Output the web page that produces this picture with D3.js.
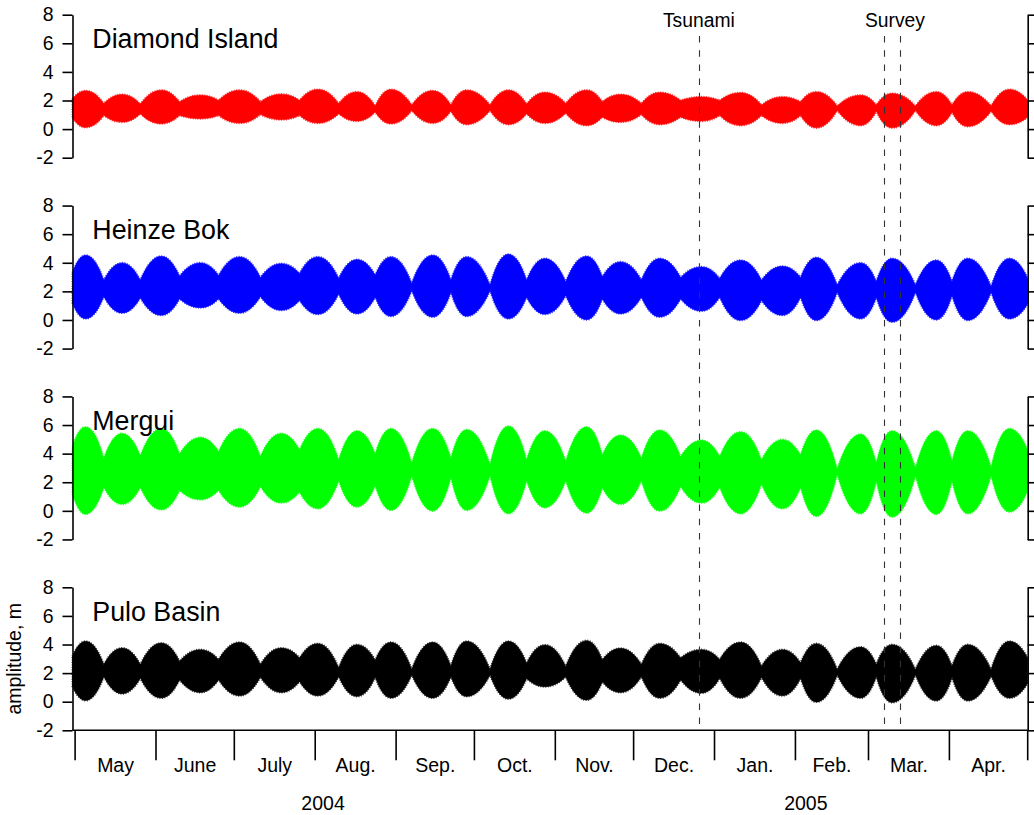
<!DOCTYPE html>
<html>
<head>
<meta charset="utf-8">
<script src="https://cdn.jsdelivr.net/npm/d3@7"></script>
<style>
  html, body { margin: 0; padding: 0; background: #fff; }
  svg { display: block; }
  text { font-family: "Liberation Sans", Arial, Helvetica, sans-serif; fill: #000; }
</style>
</head>
<body>
<svg id="chart" width="1034" height="815"></svg>
<script>
// ---------------- DATA ----------------
const stations = ["Diamond Island", "Heinze Bok", "Mergui", "Pulo Basin"];

// envelope dates: data start, then alternating spring / neap tides, data end
const envelopeDates = [
  "2004-04-30",
  "2004-05-05", "2004-05-12", "2004-05-19", "2004-05-26",
  "2004-06-03", "2004-06-10", "2004-06-18", "2004-06-25",
  "2004-07-03", "2004-07-11", "2004-07-19", "2004-07-26",
  "2004-08-02", "2004-08-10", "2004-08-17", "2004-08-24",
  "2004-08-30", "2004-09-07", "2004-09-15", "2004-09-22",
  "2004-09-28", "2004-10-07", "2004-10-14", "2004-10-21",
  "2004-10-28", "2004-11-05", "2004-11-13", "2004-11-19",
  "2004-11-26", "2004-12-04", "2004-12-11", "2004-12-19",
  "2004-12-27", "2005-01-03", "2005-01-11", "2005-01-19",
  "2005-01-27", "2005-02-03", "2005-02-09", "2005-02-17",
  "2005-02-26", "2005-03-04", "2005-03-10", "2005-03-19",
  "2005-03-27", "2005-04-02", "2005-04-08", "2005-04-17",
  "2005-04-24",
  "2005-05-01"
];

// upper / lower envelope of water level (m), one value per envelope date
const diamondHigh = [2.10, 2.68,1.78,2.42,1.74, 2.72,1.90,2.37,2.00, 2.72,1.90,2.44,2.00, 2.77,1.78,2.60,1.60,
  2.77,1.67,2.68,1.67, 2.72,1.67,2.72,1.74, 2.56,1.78,2.72,1.90, 2.42,1.78,2.56,2.00, 2.25,2.00,2.54,1.67,
  2.25,1.90,2.60,1.60, 2.37,1.67,2.49,1.60, 2.60,1.67,2.60,1.60, 2.77, 2.00];
const diamondLow = [0.80, 0.12,0.96,0.49,1.08, 0.38,0.96,0.73,0.96, 0.42,1.03,0.66,0.96, 0.42,1.08,0.56,1.20,
  0.38,1.31,0.42,1.27, 0.33,1.31,0.33,1.08, 0.42,1.13,0.26,0.85, 0.49,1.03,0.33,0.85, 0.56,0.96,0.26,0.96,
  0.42,0.96,0.09,1.31, 0.26,1.27,0.09,1.31, 0.26,1.20,0.19,1.27, 0.33, 0.85];

const heinzeHigh = [3.30, 4.52,2.77,3.99,2.77, 4.45,3.05,3.99,3.10, 4.41,2.96,3.94,3.24, 4.41,2.89,4.22,3.12,
  4.41,2.54,4.52,2.77, 4.41,2.42,4.59,2.77, 4.29,2.66,4.45,3.00, 4.06,2.77,4.29,2.96, 3.71,2.89,4.17,2.77,
  3.75,2.96,4.36,2.42, 3.99,2.66,4.29,2.42, 4.17,2.66,4.29,2.31, 4.29, 2.89];
const heinzeLow = [1.20, 0.09,1.65,0.49,1.56, 0.33,1.49,0.86,1.49, 0.49,1.65,0.68,1.38, 0.40,1.84,0.44,1.61,
  0.26,2.07,0.21,1.96, 0.26,2.07,0.09,1.61, 0.40,1.72,0.02,1.49, 0.44,1.61,0.21,1.49, 0.63,1.61,-0.02,1.38,
  0.33,1.61,-0.02,1.96, 0.09,1.61,-0.14,1.96, 0.02,1.72,-0.02,1.96, 0.09, 1.14];

const merguiHigh = [4.47, 5.86,3.65,5.40,3.81, 5.74,3.95,5.12,4.12, 5.74,3.77,5.40,4.23, 5.74,3.53,5.58,3.95,
  5.74,3.30,5.74,3.65, 5.67,3.19,5.91,3.53, 5.58,3.42,5.86,3.88, 5.28,3.65,5.63,3.77, 4.93,3.77,5.51,3.53,
  4.98,3.88,5.63,2.88, 5.35,3.30,5.58,2.95, 5.58,3.42,5.58,3.02, 5.74, 4.23];
const merguiLow = [1.21, -0.23,1.67,0.47,1.67, 0.09,1.44,0.79,1.44, 0.28,1.72,0.56,1.33, 0.16,2.14,0.28,1.79,
  0.05,2.49,0.00,2.37, 0.05,2.49,-0.19,2.14, 0.23,2.14,-0.14,1.63, 0.47,2.14,0.00,1.72, 0.56,1.67,-0.19,1.91,
  0.16,1.67,-0.37,2.60, -0.19,2.14,-0.42,2.49, -0.23,2.14,-0.19,2.49, -0.07, 1.44];

const puloHigh = [3.17, 4.22,2.59,3.75,2.59, 4.10,2.82,3.64,2.94, 4.15,2.59,3.75,3.05, 4.06,2.35,3.99,2.89,
  4.15,2.24,4.15,2.47, 4.22,2.24,4.22,2.68, 3.97,2.45,4.27,2.92, 3.73,2.59,4.06,3.05, 3.64,2.94,4.15,2.47,
  3.64,2.70,4.06,2.24, 3.82,2.59,3.99,2.24, 3.92,2.47,3.99,2.24, 4.22, 3.05];
const puloLow = [1.07, 0.09,1.77,0.56,1.66, 0.26,1.54,0.65,1.54, 0.42,1.72,0.65,1.42, 0.42,1.77,0.37,1.72,
  0.26,1.89,0.26,1.77, 0.37,1.89,0.20,1.63, 1.05,1.75,0.12,1.40, 0.65,1.77,0.26,1.54, 0.61,1.66,0.26,1.72,
  0.42,1.66,-0.02,1.89, 0.26,1.77,-0.05,1.89, 0.07,1.72,0.07,1.82, 0.26, 1.31];

const yTicks = [-2, 0, 2, 4, 6, 8];
const monthStarts = ["2004-05-01","2004-06-01","2004-07-01","2004-08-01","2004-09-01","2004-10-01",
  "2004-11-01","2004-12-01","2005-01-01","2005-02-01","2005-03-01","2005-04-01","2005-05-01"];
const monthLabels = ["May","June","July","Aug.","Sep.","Oct.","Nov.","Dec.","Jan.","Feb.","Mar.","Apr."];
const yearLabels = ["2004", "2005"];
const yearLabelDates = ["2004-08-04", "2005-02-05"];
const tsunamiDate = "2004-12-26";
const surveyDates = ["2005-03-07", "2005-03-13"];
const yLabel = "amplitude, m";

// ---------------- LAYOUT / STYLE ----------------
const highs = [diamondHigh, heinzeHigh, merguiHigh, puloHigh];
const lows = [diamondLow, heinzeLow, merguiLow, puloLow];
const colors = ["#ff0000", "#0000ff", "#00ff00", "#000000"];
const parse = d3.utcParse("%Y-%m-%d");
const left = 72.5, right = 1027.7;
const panelTop0 = 14.7, panelStep = 190.87, panelH = 143;
const axisW = 1.6;

const svg = d3.select("#chart");
const x = d3.scaleUtc()
  .domain([parse(envelopeDates[0]), parse(envelopeDates[envelopeDates.length - 1])])
  .range([left, right]);

const dates = envelopeDates.map(parse);
const isPeak = i => i % 2 === 1;   // odd indices are spring tides

// rounded bulge between two envelope points
function bulgeTo(p, a, b, bPeak) {
  const dx = b.x - a.x, dy = b.y - a.y;
  if (bPeak) {
    p.bezierCurveTo(a.x + 0.22 * dx, a.y + 0.45 * dy, b.x - 0.45 * dx, b.y, b.x, b.y);
  } else {
    p.bezierCurveTo(a.x + 0.45 * dx, a.y, b.x - 0.22 * dx, b.y - 0.45 * dy, b.x, b.y);
  }
}

function bandPath(hi, lo, y) {
  const up = dates.map((d, i) => ({ x: x(d), y: y(hi[i]) }));
  const dn = dates.map((d, i) => ({ x: x(d), y: y(lo[i]) }));
  const p = d3.path();
  p.moveTo(up[0].x, up[0].y);
  for (let i = 1; i < up.length; i++) bulgeTo(p, up[i - 1], up[i], isPeak(i));
  p.lineTo(dn[dn.length - 1].x, dn[dn.length - 1].y);
  for (let i = dn.length - 2; i >= 0; i--) bulgeTo(p, dn[i + 1], dn[i], isPeak(i));
  p.closePath();
  return p.toString();
}

stations.forEach((name, i) => {
  const top = panelTop0 + i * panelStep;
  const y = d3.scaleLinear().domain([-2, 8]).range([top + panelH, top]);
  const g = svg.append("g");
  const d = bandPath(highs[i], lows[i], y);

  g.append("path")
    .attr("d", d)
    .attr("fill", colors[i])
    .attr("stroke", colors[i])
    .attr("stroke-width", 0.6);
  // fine fringe imitating the individual tidal oscillations at the envelope edge
  g.append("path")
    .attr("d", d)
    .attr("fill", "none")
    .attr("stroke", colors[i])
    .attr("stroke-width", 2.2)
    .attr("stroke-dasharray", "0.9,1.5")
    .attr("opacity", 0.75);

  const la = g.append("g").attr("transform", `translate(${left},0)`)
    .call(d3.axisLeft(y).tickValues(yTicks).tickSize(10).tickSizeOuter(0).tickPadding(9)
      .tickFormat(v => String(v)));
  la.attr("font-family", null);
  la.selectAll("text").attr("font-size", "19.5px");
  la.selectAll("line,path").attr("stroke", "#000").attr("stroke-width", axisW);

  const ra = g.append("g").attr("transform", `translate(${right},0)`)
    .call(d3.axisRight(y).tickValues(yTicks).tickSize(10).tickSizeOuter(0).tickFormat(""));
  ra.selectAll("line,path").attr("stroke", "#000").attr("stroke-width", axisW);

  g.append("text")
    .attr("x", 92.3).attr("y", top + 33.6)
    .attr("font-size", "26.8px")
    .text(name);

  if (i === stations.length - 1) {
    const by = y(-2);
    g.append("line").attr("x1", left).attr("x2", right).attr("y1", by).attr("y2", by)
      .attr("stroke", "#000").attr("stroke-width", axisW);
    const ms = monthStarts.map(parse);
    g.selectAll(".mtick").data(ms).enter().append("line")
      .attr("x1", v => Math.max(x(v), left)).attr("x2", v => Math.max(x(v), left))
      .attr("y1", by).attr("y2", by + 30)
      .attr("stroke", "#000").attr("stroke-width", axisW);
    g.selectAll(".mlab").data(monthLabels).enter().append("text")
      .attr("x", (v, j) => (Math.max(x(ms[j]), left) + x(ms[j + 1])) / 2)
      .attr("y", by + 41.5)
      .attr("text-anchor", "middle")
      .attr("font-size", "19.5px")
      .text(v => v);
    g.selectAll(".ylab").data(yearLabels).enter().append("text")
      .attr("x", (v, j) => x(parse(yearLabelDates[j])))
      .attr("y", by + 80)
      .attr("text-anchor", "middle")
      .attr("font-size", "19.5px")
      .text(v => v);
    g.append("text")
      .attr("transform", `translate(21,${(y(8) + y(-2)) / 2}) rotate(-90)`)
      .attr("text-anchor", "middle")
      .attr("font-size", "19.5px")
      .text(yLabel);
  }
});

// event markers
const bottomY = panelTop0 + 3 * panelStep + panelH;
const eventDates = [tsunamiDate].concat(surveyDates).map(parse);
svg.selectAll(".ev").data(eventDates).enter().append("line")
  .attr("x1", v => Math.round(x(v)) + 0.5).attr("x2", v => Math.round(x(v)) + 0.5)
  .attr("y1", 36).attr("y2", bottomY)
  .attr("stroke", "#333").attr("stroke-width", 1.1)
  .attr("stroke-dasharray", "6.5,7.7");
svg.append("text")
  .attr("x", x(parse(tsunamiDate))).attr("y", 26.5)
  .attr("text-anchor", "middle").attr("font-size", "19.3px")
  .text("Tsunami");
svg.append("text")
  .attr("x", (x(parse(surveyDates[0])) + x(parse(surveyDates[1]))) / 2 + 3).attr("y", 26.5)
  .attr("text-anchor", "middle").attr("font-size", "19.3px")
  .text("Survey");
</script>
</body>
</html>
